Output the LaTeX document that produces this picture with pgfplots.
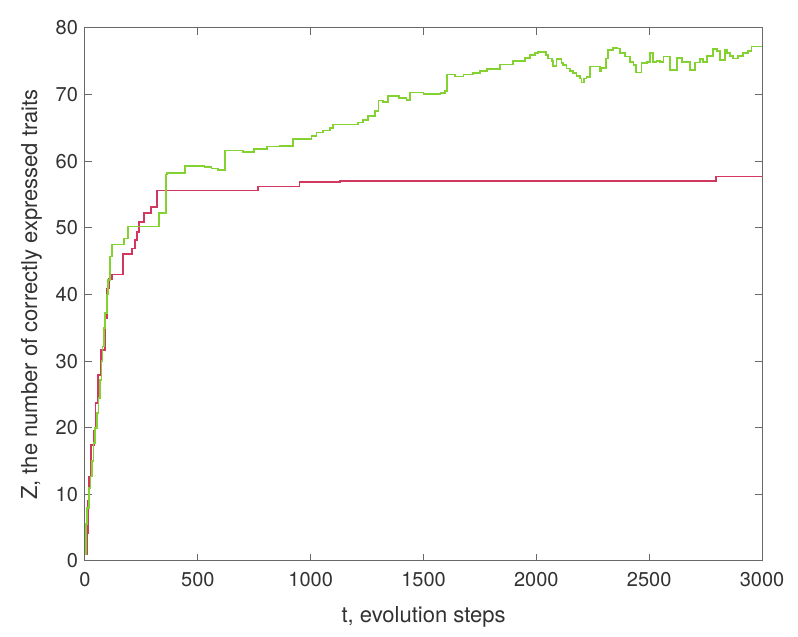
\documentclass[border=0pt]{standalone}
\usepackage{fontspec}
\setmainfont{TeX Gyre Heros}
\usepackage{pgfplots}
\pgfplotsset{compat=1.18}
\definecolor{gline}{RGB}{132,210,50}
\definecolor{rline}{RGB}{210,55,95}
\definecolor{axgray}{RGB}{105,105,105}
\definecolor{txt}{RGB}{50,50,50}
\begin{document}
\begin{tikzpicture}
\begin{axis}[
  scale only axis, width=338.5pt, height=266.5pt,
  xmin=0, xmax=3000, ymin=0, ymax=80,
  xtick={0,500,...,3000}, ytick={0,10,...,80},
  tick align=inside, major tick length=3.5pt,
  axis line style={axgray, line width=0.5pt},
  tick style={axgray, line width=0.5pt},
  /pgf/number format/assume math mode=true,
  /pgf/number format/1000 sep={},
  scaled x ticks=false,
  every tick label/.append style={font=\fontsize{10}{12}\selectfont, text=txt},
  xticklabel style={yshift=-2pt},
  xlabel={t, evolution steps},
  ylabel={Z, the number of correctly expressed traits},
  label style={font=\fontsize{11}{13}\selectfont, text=txt},
  xlabel style={yshift=-3pt},
]
\addplot[const plot, rline, line width=0.85pt] coordinates {
(0,1) (8,4.2) (14,9) (19,12.7) (27,17.4) (40,19.6) (47,23.7) (59,27.9)
(70,31.7) (88,36.5) (96,40.9) (106,42.3) (121,43.0) (167,46.1) (207,46.9)
(222,48.2) (229,49.4) (239,50.9) (261,52.2) (292,53.1) (320,55.6)
(768,56.2) (950,56.9) (1130,57.0) (2796,57.7) (3000,57.7)
};
\addplot[const plot, gline, line width=0.85pt] coordinates {
(0,1) (3,5.5) (10,8) (17,11) (24,12.7) (31,15) (38,17.7) (45,20) (53,22.2)
(60,24.5) (68,27.2) (73,30) (78,32.2) (84,35) (90,37.2) (96,40) (102,42.2)
(111,45.7) (121,47.5) (173,48.4) (192,50.2) (328,52.2) (359,58.0) (362,58.2)
(443,59.3) (530,59.1) (560,58.9) (590,58.7) (620,61.6) (700,61.4) (750,61.8)
(805,62.2) (864,62.3) (923,63.3) (1004,63.8) (1026,64.3) (1056,64.6)
(1085,65.0) (1100,65.5) (1211,65.8) (1233,66.2) (1255,66.8) (1285,67.5)
(1300,69.1) (1321,68.9) (1344,69.8) (1390,69.5) (1425,69.2) (1440,70.3)
(1500,70.1) (1575,70.2) (1595,70.5) (1605,73.0) (1640,72.7) (1677,73.0)
(1720,73.2) (1750,73.5) (1780,73.8) (1838,74.5) (1897,75.0) (1950,75.5)
(1971,75.9) (1994,76.2) (2008,76.4) (2042,75.9) (2053,75.4) (2068,75.0)
(2075,74.3) (2090,75.3) (2112,74.7) (2119,74.4) (2134,73.9) (2149,73.5)
(2163,73.2) (2178,72.8) (2193,72.4) (2200,71.8) (2210,72.4) (2222,72.6)
(2237,74.2) (2282,73.5) (2289,74.0) (2308,75.4) (2318,76.7) (2341,77.0)
(2356,76.9) (2370,76.2) (2393,75.7) (2415,74.9) (2430,74.4) (2441,73.3)
(2466,74.7) (2489,74.9) (2503,76.2) (2518,74.9) (2533,75.0) (2548,74.9)
(2563,75.7) (2592,73.7) (2622,75.5) (2644,74.9) (2681,73.7) (2703,74.8)
(2725,75.3) (2740,74.9) (2755,75.8) (2784,76.8) (2801,76.5) (2813,75.2)
(2836,76.7) (2846,76.2) (2858,75.8) (2873,75.4) (2895,75.8) (2917,76.2)
(2939,76.5) (2954,77.2) (3000,77.2)
};
\end{axis}
\pgfresetboundingbox
\path[use as bounding box] ([xshift=-42.5pt,yshift=-38pt]current axis.south west) rectangle ([xshift=18pt,yshift=14pt]current axis.north east);
\end{tikzpicture}
\end{document}
